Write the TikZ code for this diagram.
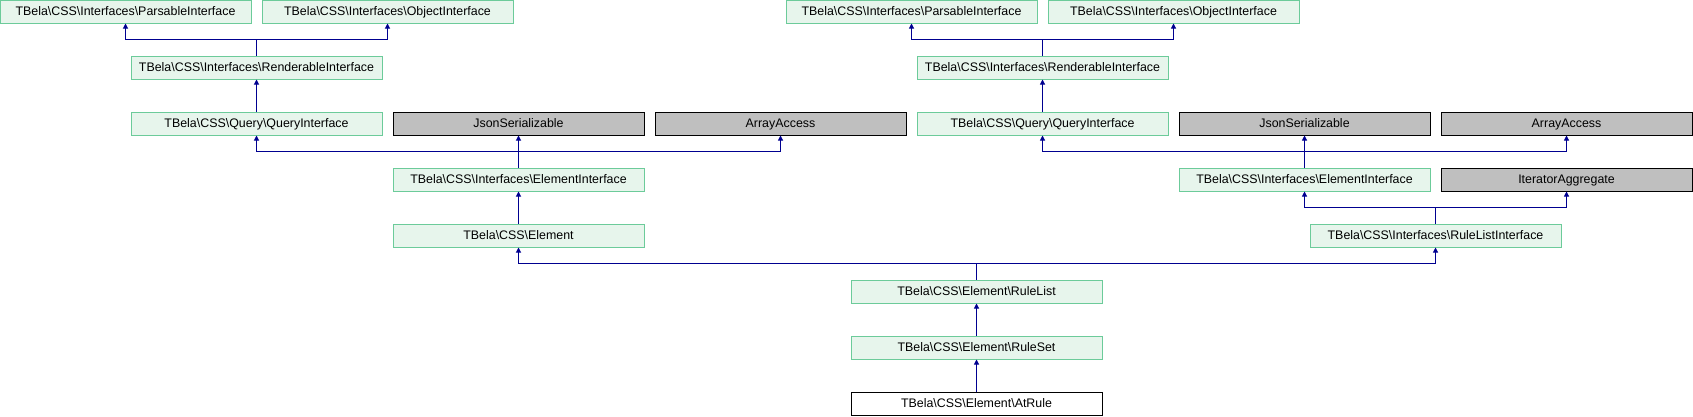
\documentclass[tikz,border=0pt]{standalone}
\usepackage{fontspec}
\setmainfont{Liberation Sans}
\usetikzlibrary{arrows.meta}
\definecolor{gfill}{HTML}{E7F5EC}
\definecolor{gdraw}{HTML}{6CCB9A}
\definecolor{xfill}{HTML}{BFBFBF}
\definecolor{lnk}{HTML}{000090}
\tikzset{
  box/.style={minimum width=251pt,minimum height=23pt,inner sep=0pt,line width=1pt,
    font=\fontsize{12.4}{14}\selectfont,text height=9pt,text depth=2pt},
  cls/.style={box,fill=gfill,draw=gdraw},
  ext/.style={box,fill=xfill,draw=black},
  cur/.style={box,fill=white,draw=black},
  lk/.style={draw=lnk,line width=1pt},
  arr/.style={lk,-{Triangle[length=5pt,width=5pt]}}
}
\begin{document}
\begin{tikzpicture}[x=1pt,y=-1pt]
\useasboundingbox (0,0) rectangle (1693,416);
% left tree
\node[cls] (parsL) at (125.5,11.5) {TBela\textbackslash CSS\textbackslash Interfaces\textbackslash ParsableInterface};
\node[cls] (objL) at (387.5,11.5) {TBela\textbackslash CSS\textbackslash Interfaces\textbackslash ObjectInterface};
\node[cls] (rendL) at (256.5,67.5) {TBela\textbackslash CSS\textbackslash Interfaces\textbackslash RenderableInterface};
\node[cls] (queryL) at (256.5,123.5) {TBela\textbackslash CSS\textbackslash Query\textbackslash QueryInterface};
\node[ext] (jsonL) at (518.5,123.5) {JsonSerializable};
\node[ext] (arrL) at (780.5,123.5) {ArrayAccess};
\node[cls] (eiL) at (518.5,179.5) {TBela\textbackslash CSS\textbackslash Interfaces\textbackslash ElementInterface};
\node[cls] (elem) at (518.5,235.5) {TBela\textbackslash CSS\textbackslash Element};
% right tree
\node[cls] (parsR) at (911.5,11.5) {TBela\textbackslash CSS\textbackslash Interfaces\textbackslash ParsableInterface};
\node[cls] (objR) at (1173.5,11.5) {TBela\textbackslash CSS\textbackslash Interfaces\textbackslash ObjectInterface};
\node[cls] (rendR) at (1042.5,67.5) {TBela\textbackslash CSS\textbackslash Interfaces\textbackslash RenderableInterface};
\node[cls] (queryR) at (1042.5,123.5) {TBela\textbackslash CSS\textbackslash Query\textbackslash QueryInterface};
\node[ext] (jsonR) at (1304.5,123.5) {JsonSerializable};
\node[ext] (arrR) at (1566.5,123.5) {ArrayAccess};
\node[cls] (eiR) at (1304.5,179.5) {TBela\textbackslash CSS\textbackslash Interfaces\textbackslash ElementInterface};
\node[ext] (iter) at (1566.5,179.5) {IteratorAggregate};
\node[cls] (rli) at (1435.5,235.5) {TBela\textbackslash CSS\textbackslash Interfaces\textbackslash RuleListInterface};
% bottom
\node[cls] (rlist) at (976.5,291.5) {TBela\textbackslash CSS\textbackslash Element\textbackslash RuleList};
\node[cls] (rset) at (976.5,347.5) {TBela\textbackslash CSS\textbackslash Element\textbackslash RuleSet};
\node[cur] (atrule) at (976.5,403.5) {TBela\textbackslash CSS\textbackslash Element\textbackslash AtRule};
% connectors left
\draw[lk] (rendL.north) -- ++(0,-16.5) coordinate (j1);
\draw[arr] (j1) -| (parsL);
\draw[arr] (j1) -| (objL);
\draw[arr] (queryL) -- (rendL);
\draw[lk] (eiL.north) -- ++(0,-16.5) coordinate (j2);
\draw[arr] (j2) -| (queryL);
\draw[arr] (eiL) -- (jsonL);
\draw[arr] (j2) -| (arrL);
\draw[arr] (elem) -- (eiL);
% connectors right
\draw[lk] (rendR.north) -- ++(0,-16.5) coordinate (j3);
\draw[arr] (j3) -| (parsR);
\draw[arr] (j3) -| (objR);
\draw[arr] (queryR) -- (rendR);
\draw[lk] (eiR.north) -- ++(0,-16.5) coordinate (j4);
\draw[arr] (j4) -| (queryR);
\draw[arr] (eiR) -- (jsonR);
\draw[arr] (j4) -| (arrR);
\draw[lk] (rli.north) -- ++(0,-16.5) coordinate (j5);
\draw[arr] (j5) -| (eiR);
\draw[arr] (j5) -| (iter);
% bottom connectors
\draw[lk] (rlist.north) -- ++(0,-16.5) coordinate (j6);
\draw[arr] (j6) -| (elem);
\draw[arr] (j6) -| (rli);
\draw[arr] (rset) -- (rlist);
\draw[arr] (atrule) -- (rset);
\end{tikzpicture}
\end{document}
